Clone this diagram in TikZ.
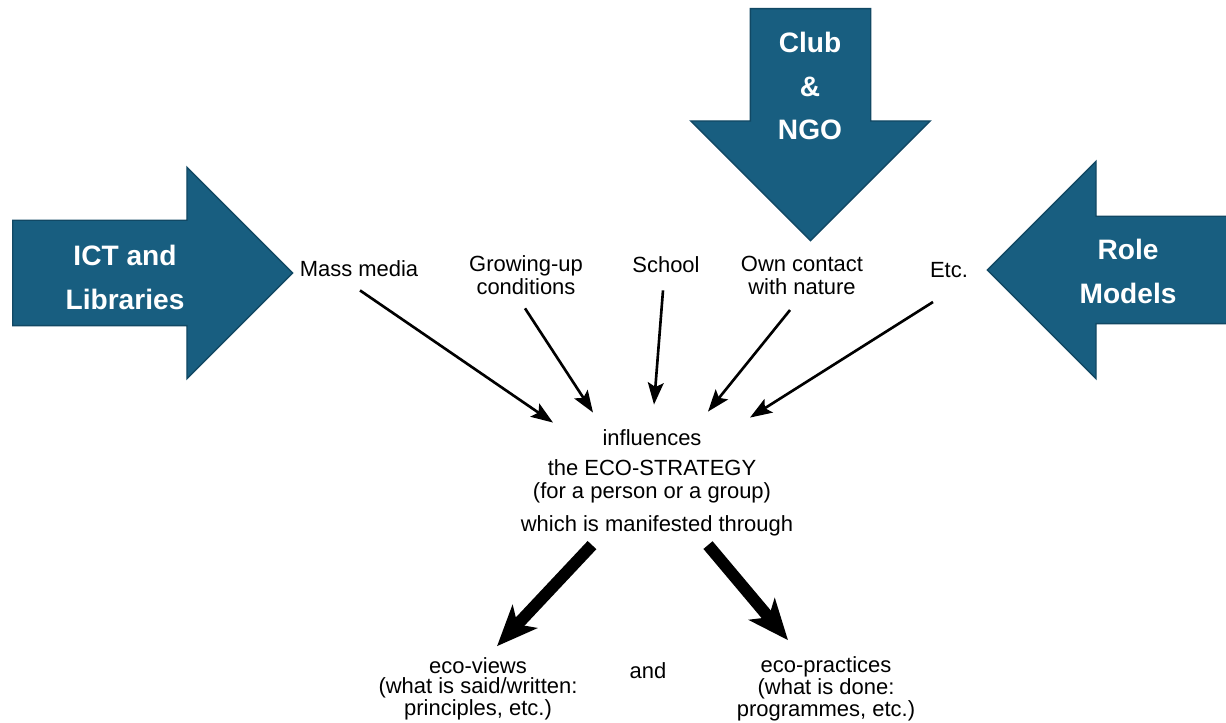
\documentclass[tikz,border=0pt]{standalone}
\usepackage{fontspec}
\setmainfont{Liberation Sans}
\usetikzlibrary{shapes.arrows,positioning,arrows.meta}

\definecolor{ecoblue}{RGB}{24,94,128}
\definecolor{ecoedge}{RGB}{17,72,100}

\begin{document}
\begin{tikzpicture}[
  inflow/.style={single arrow, fill=ecoblue, draw=ecoedge, line width=0.8pt,
    inner sep=0pt, text depth=0pt, anchor=tail},
  inlabel/.style={text=white, font=\fontsize{16}{25}\selectfont\bfseries, align=center, inner sep=0pt},
  factor/.style={font=\fontsize{12.5}{13}\selectfont, align=center, inner sep=0pt},
  outcome/.style={font=\fontsize{12.5}{11.5}\selectfont, align=center, inner sep=0pt},
  thinarrow/.style={line width=1.5pt, -{Stealth[length=12.5pt, width=9pt, inset=2.5pt]}},
  thickarrow/.style={line width=6.8pt, -{Stealth[length=23pt, width=19pt, inset=6pt]}}
]
\useasboundingbox (0,0) rectangle (24.52,14.44);

% blue arrows pointing in
\node[inflow, text height=2.08cm, minimum height=5.6cm, single arrow head extend=1.06cm] (ictArrow) at (0.24,8.98) {};
\node[inflow, text height=2.38cm, minimum height=4.64cm, single arrow head extend=1.19cm, rotate=-90] (clubArrow) at (16.21,14.28) {};
\node[inflow, text height=2.12cm, minimum height=5.04cm, single arrow head extend=1.1cm, rotate=180] (roleArrow) at (24.8,9.04) {};

\node[inlabel] (ict) at (2.5,8.89) {ICT and\\Libraries};
\node[inlabel] (club) at (16.2,12.72) {Club\\\&\\NGO};
\node[inlabel] (role) at (22.56,9.01) {Role\\Models};

% factors
\node[factor] (media) at (7.18,9.07) {Mass media};
\node[factor] (growing) at (10.52,8.93) {Growing-up\\conditions};
\node[factor] (school) at (13.32,9.15) {School};
\node[factor] (contact) at (16.04,8.93) {Own contact\\with nature};
\node[factor] (others) at (18.98,9.04) {Etc.};

% centre
\node[factor] (infl) at (13.04,5.68) {influences};
\node[factor] (strategy) at (13.04,4.82) {the ECO-STRATEGY\\(for a person or a group)};
\node[factor] (manifest) at (13.14,3.92) {which is manifested through};

% results
\node[outcome] (views) at (9.56,0.66) {eco-views\\(what is said/written:\\principles, etc.)};
\node[outcome] (andword) at (12.96,1.02) {and};
\node[outcome] (practices) at (16.52,0.66) {eco-practices\\(what is done:\\programmes, etc.)};

\draw[thinarrow] ([shift={(0.02,-0.27)}]media.south) -- ([shift={(-1.98,0.14)}]infl.north);
\draw[thinarrow] ([shift={(-0.02,-0.26)}]growing.south) -- ([shift={(-1.18,0.34)}]infl.north);
\draw[thinarrow] ([shift={(-0.06,-0.35)}]school.south) -- ([shift={(0.04,0.5)}]infl.north);
\draw[thinarrow] ([shift={(-0.24,-0.30)}]contact.south) -- ([shift={(1.12,0.36)}]infl.north);
\draw[thinarrow] ([shift={(-0.32,-0.48)}]others.south) -- ([shift={(1.96,0.24)}]infl.north);

\draw[thickarrow] ([shift={(-1.30,-0.17)}]manifest.south) -- ([shift={(0.38,0.22)}]views.north);
\draw[thickarrow] ([shift={(1.02,-0.17)}]manifest.south) -- ([shift={(-0.76,0.32)}]practices.north);
\end{tikzpicture}
\end{document}
